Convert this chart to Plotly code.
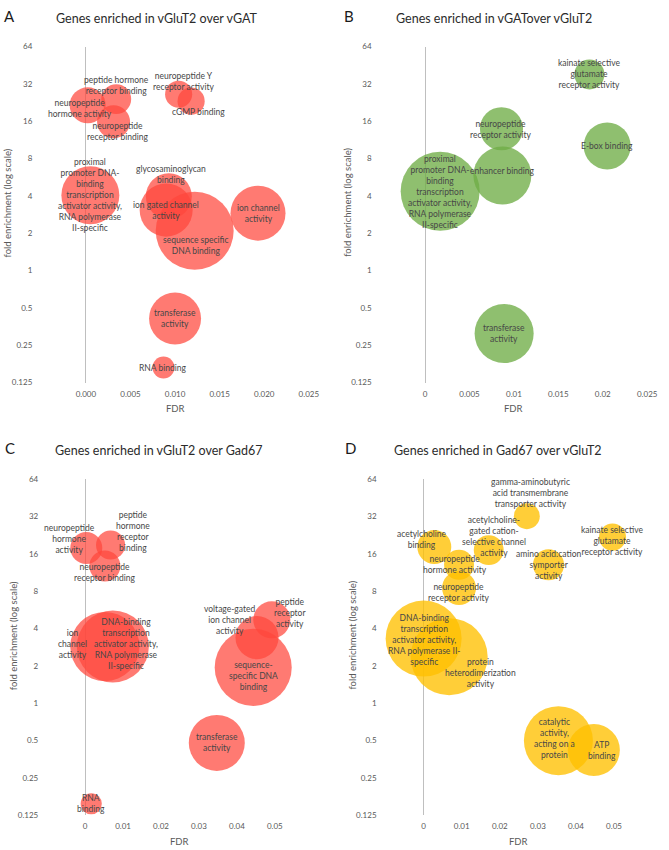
import math
import plotly.graph_objects as go

W, H = 669, 850

# ---------------- data ----------------
a_terms = ["neuropeptide<br>hormone activity", "peptide hormone<br>receptor binding",
           "neuropeptide<br>receptor binding", "neuropeptide Y<br>receptor activity",
           "cGMP binding",
           "proximal<br>promoter DNA-<br>binding<br>transcription<br>activator activity,<br>RNA polymerase<br>II-specific",
           "glycosaminoglycan<br>binding", "ion gated channel<br>activity",
           "sequence specific<br>DNA binding", "ion channel<br>activity",
           "transferase<br>activity", "RNA binding"]
a_fdr = [0.0002, 0.0034, 0.0031, 0.0104, 0.0118, 0.0005, 0.0093, 0.0090, 0.0122, 0.0193, 0.0100, 0.0087]
a_fold = [21.5, 24.1, 15.8, 26.4, 23.2, 4.05, 3.97, 3.07, 2.09, 2.9, 0.41, 0.165]
a_genes = [81, 56, 68, 46, 46, 210, 132, 176, 380, 189, 169, 30]

b_terms = ["kainate selective<br>glutamate<br>receptor activity",
           "neuropeptide<br>receptor activity", "E-box binding", "enhancer binding",
           "proximal<br>promoter DNA-<br>binding<br>transcription<br>activator activity,<br>RNA polymerase<br>II-specific",
           "transferase<br>activity"]
b_fdr = [0.0185, 0.0086, 0.0205, 0.0087, 0.0017, 0.0089]
b_fold = [38.1, 13.9, 10.1, 5.84, 4.35, 0.31]
b_genes = [56, 116, 138, 210, 390, 218]

c_terms = ["neuropeptide<br>hormone<br>activity", "peptide<br>hormone<br>receptor<br>binding",
           "neuropeptide<br>receptor binding", "ion<br>channel<br>activity",
           "DNA-binding<br>transcription<br>activator activity,<br>RNA polymerase<br>II-specific",
           "voltage-gated<br>ion channel<br>activity", "peptide<br>receptor<br>activity",
           "sequence-<br>specific DNA<br>binding", "transferase<br>activity", "RNA<br>binding"]
c_fdr = [0.0003, 0.0067, 0.0052, 0.0052, 0.0073, 0.0453, 0.0492, 0.0443, 0.0347, 0.0016]
c_fold = [17.9, 18.9, 12.8, 2.87, 2.87, 3.39, 4.72, 1.95, 0.48, 0.155]
c_genes = [64, 53, 60, 300, 324, 116, 86, 371, 196, 28]

d_terms = ["gamma-aminobutyric<br>acid transmembrane<br>transporter activity",
           "acetylcholine<br>binding",
           "acetylcholine-<br>gated cation-<br>selective channel<br>activity",
           "kainate selective<br>glutamate<br>receptor activity",
           "amino acid:cation<br>symporter<br>activity",
           "neuropeptide<br>hormone activity", "neuropeptide<br>receptor activity",
           "DNA-binding<br>transcription<br>activator activity,<br>RNA polymerase II-<br>specific",
           "protein<br>heterodimerization<br>activity",
           "catalytic<br>activity,<br>acting on a<br>protein", "ATP<br>binding"]
d_fdr = [0.0271, 0.0028, 0.0171, 0.0496, 0.0328, 0.0093, 0.0093, 0.0000, 0.0067, 0.0354, 0.0447]
d_fold = [32.3, 18.2, 17.2, 21.9, 13.1, 13.1, 8.5, 3.33, 2.38, 0.50, 0.42]
d_genes = [42, 72, 56, 46, 60, 56, 72, 361, 371, 298, 169]

titles = ["Genes enriched in vGluT2 over vGAT", "Genes enriched in vGATover vGluT2",
          "Genes enriched in vGluT2 over Gad67", "Genes enriched in Gad67 over vGluT2"]
letters = ["A", "B", "C", "D"]
y_ticks = [0.125, 0.25, 0.5, 1, 2, 4, 8, 16, 32, 64]
y_ticktext = ["0.125", "0.25", "0.5", "1", "2", "4", "8", "16", "32", "64"]
x_ticks_ab = [0, 0.005, 0.01, 0.015, 0.02, 0.025]
x_ticktext_a = ["0.000", "0.005", "0.010", "0.015", "0.020", "0.025"]
x_ticktext_b = ["0", "0.005", "0.01", "0.015", "0.02", "0.025"]
x_ticks_cd = [0, 0.01, 0.02, 0.03, 0.04, 0.05]
x_ticktext_cd = ["0", "0.01", "0.02", "0.03", "0.04", "0.05"]

# ---------------- styling / layout ----------------
FONT = "Lato"
colors = ["rgb(255,70,60)", "rgb(112,173,71)", "rgb(255,70,60)", "rgb(255,192,0)"]
opac = [0.72, 0.78, 0.72, 0.78]

# label offsets in px (dx right, dy down)
shifts = [
    [(-8, 3), (0, -14), (4, 10), (5, -13), (7, 11), (0, 0), (2, -22), (0, 0), (1, 15), (0, 0), (0, 0), (0, 0)],
    [(0, 0), (0, 1), (0, 0), (0, -4), (0, 1), (0, 0)],
    [(-17, -9), (22, -14), (0, 6), (-32, -3), (13, -3), (-28, -18), (18, -7), (0, 9), (0, 0), (0, 0)],
    [(4, -23), (-12, -8), (5, -14), (0, 4), (0, 0), (-4, 0), (0, 4), (0, 1), (31, 16), (-4, -2), (8, 0)],
]

# plot areas in px: (left, right, top, bottom)
areas = [(42, 314, 42, 382), (387, 658, 42, 382), (48, 318, 480, 820), (392, 663, 480, 820)]
xranges = [[-0.005, 0.025], [-0.005, 0.025], [-0.01, 0.06], [-0.01, 0.06]]
xtickv = [x_ticks_ab, x_ticks_ab, x_ticks_cd, x_ticks_cd]
xtickt = [x_ticktext_a, x_ticktext_b, x_ticktext_cd, x_ticktext_cd]
title_pos = [(160, 14), (502, 14), (162, 451), (506, 451)]
letter_pos = [(10, 11), (355, 11), (10, 448), (356, 448)]

panels = [(a_terms, a_fdr, a_fold, a_genes), (b_terms, b_fdr, b_fold, b_genes),
          (c_terms, c_fdr, c_fold, c_genes), (d_terms, d_fdr, d_fold, d_genes)]

fig = go.Figure()
annotations = []
shapes = []
layout = {}

def px(x, y):
    return x / W, 1 - y / H

for i, (terms, fdr, fold, genes) in enumerate(panels):
    k = "" if i == 0 else str(i + 1)
    xa, ya = "x" + k, "y" + k
    l, r, t, b = areas[i]
    fig.add_trace(go.Scatter(
        x=fdr, y=fold, mode="markers", xaxis=xa, yaxis=ya,
        marker=dict(size=genes, sizemode="area", sizeref=0.125, color=colors[i],
                    opacity=opac[i], line=dict(width=0)),
        cliponaxis=False, hoverinfo="text", hovertext=terms, showlegend=False))
    layout["xaxis" + k] = dict(
        domain=[l / W, r / W], anchor=ya, range=xranges[i],
        tickvals=xtickv[i], ticktext=xtickt[i], showgrid=False,
        zeroline=True, zerolinecolor="#BFBFBF", zerolinewidth=1,
        showline=False, ticks="", ticklabelstandoff=5,
        tickfont=dict(family=FONT, size=8, color="#595959"))
    layout["yaxis" + k] = dict(
        domain=[1 - b / H, 1 - t / H], anchor=xa, type="log",
        range=[math.log10(0.125), math.log10(64)],
        tickvals=y_ticks, ticktext=y_ticktext, showgrid=False, zeroline=False,
        showline=False, ticks="", ticklabelstandoff=8,
        tickfont=dict(family=FONT, size=8, color="#595959"))
    shapes.append(dict(type="line", xref=xa + " domain", yref=ya, x0=0, x1=1, y0=0, y1=0,
                       line=dict(color="#BFBFBF", width=1), layer="below"))
    for j, term in enumerate(terms):
        dx, dy = shifts[i][j]
        annotations.append(dict(
            x=fdr[j], y=math.log10(fold[j]), xref=xa, yref=ya, text=term,
            showarrow=False, xshift=dx, yshift=-dy, align="center",
            font=dict(family=FONT, size=8.5, color="#474747")))
    # titles
    tx, ty = px(*title_pos[i])
    annotations.append(dict(x=tx, y=ty, xref="paper", yref="paper", text=titles[i],
                            showarrow=False, xanchor="center", yanchor="middle",
                            font=dict(family=FONT, size=12.5, color="#2b2b2b")))
    lx, ly = px(*letter_pos[i])
    annotations.append(dict(x=lx, y=ly, xref="paper", yref="paper", text=letters[i],
                            showarrow=False, xanchor="center", yanchor="middle",
                            font=dict(family=FONT, size=15, color="#1a1a1a")))
    # axis titles
    fx, fy = px((l + r) / 2, b + 26)
    annotations.append(dict(x=fx, y=fy, xref="paper", yref="paper", text="FDR",
                            showarrow=False, xanchor="center", yanchor="middle",
                            font=dict(family=FONT, size=9.5, color="#595959")))
    yx, yy = px(l - 34, (t + b) / 2 - 12)
    annotations.append(dict(x=yx, y=yy, xref="paper", yref="paper",
                            text="fold enrichment (log scale)", textangle=-90,
                            showarrow=False, xanchor="center", yanchor="middle",
                            font=dict(family=FONT, size=9.5, color="#595959")))

fig.update_layout(
    width=W, height=H, margin=dict(l=0, r=0, t=0, b=0),
    paper_bgcolor="white", plot_bgcolor="white",
    annotations=annotations, shapes=shapes, **layout)

fig.write_html("out.html", config={"displayModeBar": False},
               post_script="document.body.style.margin='0';")
